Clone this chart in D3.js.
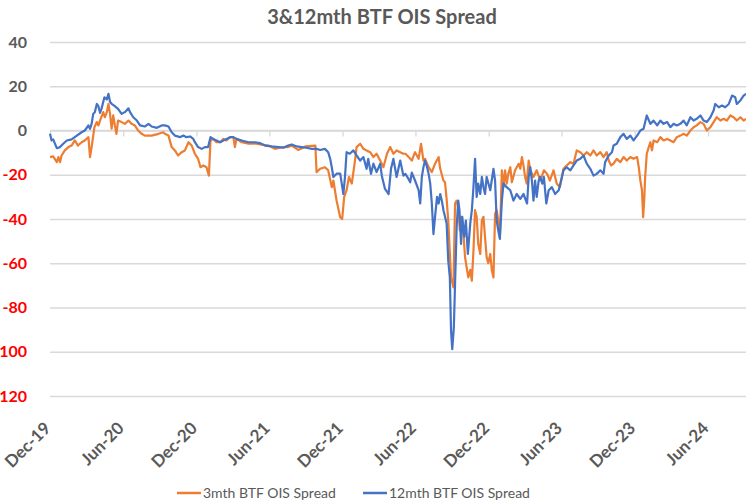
<!DOCTYPE html>
<html>
<head>
<meta charset="utf-8">
<script src="https://cdn.jsdelivr.net/npm/d3@7"></script>
<style>
  html, body { margin: 0; padding: 0; background: #ffffff; }
  svg { display: block; }
</style>
</head>
<body>
<script>
const chartTitle = "3&12mth BTF OIS Spread";
const seriesNames = ["3mth BTF OIS Spread", "12mth BTF OIS Spread"];
const seriesColors = ["#ED7D31", "#4472C4"];
const yTicks = [-120, -100, -80, -60, -40, -20, 0, 20, 40];
const xTickDates = ["2019-12-01","2020-06-01","2020-12-01","2021-06-01","2021-12-01","2022-06-01","2022-12-01","2023-06-01","2023-12-01","2024-06-01"];
const xTickLabels = ["Dec-19","Jun-20","Dec-20","Jun-21","Dec-21","Jun-22","Dec-22","Jun-23","Dec-23","Jun-24"];

const spread3m = [
["2019-12-01",-12],["2019-12-09",-11.7],["2019-12-18",-14.3],["2019-12-22",-12],["2019-12-26",-14.3],["2019-12-30",-11.3],
["2020-01-07",-9],["2020-01-16",-7.5],["2020-01-24",-6.8],["2020-02-01",-4.5],["2020-02-09",-6.8],["2020-02-18",-5.3],["2020-02-26",-4.5],
["2020-03-06",-3],["2020-03-10",-12],["2020-03-14",-7.5],["2020-03-21",1.5],["2020-03-27",3.8],["2020-03-31",2.3],
["2020-04-04",4.5],["2020-04-12",8.3],["2020-04-16",6],["2020-04-21",8.3],["2020-04-25",12],["2020-04-29",7.5],
["2020-05-03",0.8],["2020-05-07",6.8],["2020-05-11",2.3],["2020-05-15",-1.5],["2020-05-19",4.5],["2020-05-28",3.8],
["2020-06-05",3],["2020-06-14",4.5],["2020-06-22",3],["2020-06-30",2.3],["2020-07-08",0],["2020-07-17",-1.5],["2020-07-25",-2.3],
["2020-08-11",-2.3],["2020-08-28",-1.5],["2020-09-09",-0.8],["2020-09-13",-1.5],["2020-09-22",-2.3],["2020-09-30",-7.5],
["2020-10-08",-9],["2020-10-16",-11.3],["2020-10-25",-9.8],["2020-11-02",-9],["2020-11-11",-5.3],["2020-11-19",-6.8],["2020-11-27",-10.5],
["2020-12-05",-12.8],["2020-12-11",-16.6],["2020-12-18",-15.8],["2020-12-26",-16.6],["2021-01-01",-20.4],
["2021-01-05",-4.5],["2021-01-12",-3.8],["2021-01-20",-5.3],["2021-01-29",-5.3],["2021-02-06",-3.8],["2021-02-14",-4.5],["2021-02-23",-3],
["2021-03-03",-3],["2021-03-07",-7.5],["2021-03-11",-3.8],["2021-03-24",-5.3],["2021-04-10",-6],["2021-04-26",-5.8],["2021-05-13",-6.4],["2021-05-30",-6.8],
["2021-06-15",-8.3],["2021-07-02",-7.5],["2021-07-18",-7.5],["2021-07-27",-6.8],["2021-08-12",-8.8],["2021-08-30",-7.2],["2021-09-24",-6.8],
["2021-09-27",-18.8],["2021-10-06",-17.3],["2021-10-18",-16.6],["2021-10-26",-18],["2021-11-04",-25.6],["2021-11-08",-22.6],["2021-11-16",-31.7],["2021-11-25",-39.2],["2021-11-30",-40],
["2021-12-05",-30],["2021-12-11",-27],["2021-12-17",-21],["2021-12-24",-24],["2022-01-01",-13.6],["2022-01-05",-7.5],["2022-01-14",-6],["2022-01-22",-8.3],["2022-01-30",-9],
["2022-02-08",-9.8],["2022-02-16",-12],["2022-02-24",-10.5],["2022-03-05",-13.6],["2022-03-13",-16.6],["2022-03-22",-10.5],["2022-03-30",-7.5],
["2022-04-07",-10.5],["2022-04-15",-9],["2022-04-24",-9.8],["2022-05-02",-10.5],["2022-05-07",-10.5],["2022-05-15",-12],["2022-05-23",-13.6],["2022-05-31",-9.8],
["2022-06-09",-12.8],["2022-06-15",-6],["2022-06-21",-13.6],["2022-06-25",-12.8],["2022-07-04",-16.6],["2022-07-12",-18.8],["2022-07-20",-15],["2022-07-29",-12],
["2022-08-02",-17.3],["2022-08-10",-22.6],["2022-08-14",-23.4],["2022-08-18",-31],["2022-08-22",-40.7],["2022-08-29",-66.4],["2022-09-04",-70.9],
["2022-09-08",-33],["2022-09-12",-31.7],["2022-09-16",-34.7],["2022-09-20",-45.2],["2022-09-24",-39],["2022-09-28",-43.7],
["2022-10-03",-57.3],["2022-10-07",-61.8],["2022-10-11",-66.4],["2022-10-16",-63],["2022-10-20",-67.9],["2022-10-24",-54.3],["2022-10-28",-36],
["2022-11-01",-39],["2022-11-05",-51.3],["2022-11-10",-55.8],["2022-11-14",-40.7],["2022-11-18",-39],["2022-11-22",-48.3],["2022-11-26",-57.3],["2022-11-30",-60],
["2022-12-05",-55.8],["2022-12-09",-63.3],["2022-12-13",-66.4],["2022-12-17",-37.7],["2022-12-21",-36],["2022-12-25",-40.7],["2022-12-29",-48.3],
["2023-01-03",-18],["2023-01-07",-25.6],["2023-01-11",-18],["2023-01-15",-24],["2023-01-19",-19.6],["2023-01-24",-16.6],["2023-01-28",-23.4],
["2023-02-05",-18],["2023-02-14",-15],["2023-02-18",-17.3],["2023-02-22",-12],["2023-02-26",-15.8],
["2023-03-02",-21],["2023-03-06",-24],["2023-03-11",-13.6],["2023-03-15",-18],["2023-03-23",-21],["2023-03-31",-18],
["2023-04-09",-22.6],["2023-04-18",-18],["2023-04-26",-19.6],["2023-05-03",-22.6],["2023-05-12",-18],["2023-05-20",-24],["2023-05-28",-25.6],
["2023-06-06",-17.3],["2023-06-14",-15.8],["2023-06-23",-14.3],["2023-07-01",-15],["2023-07-09",-9],["2023-07-18",-9.8],["2023-07-26",-11.3],
["2023-08-03",-9.8],["2023-08-12",-11.3],["2023-08-20",-9],["2023-08-28",-11.3],["2023-09-06",-9.8],["2023-09-14",-12],["2023-09-22",-9.8],["2023-09-27",-13.6],
["2023-10-03",-15.8],["2023-10-09",-15],["2023-10-17",-12.8],["2023-10-26",-14.3],["2023-11-03",-12],["2023-11-11",-13.6],["2023-11-20",-12],["2023-11-28",-12.8],
["2023-12-07",-12],["2023-12-11",-16.6],["2023-12-15",-22.6],["2023-12-19",-27],["2023-12-22",-39.2],["2023-12-25",-30],["2023-12-27",-21],["2023-12-31",-10.5],
["2024-01-05",-7.5],["2024-01-09",-5.3],["2024-01-13",-9],["2024-01-17",-4.5],["2024-01-26",-5.3],["2024-02-03",-3],["2024-02-11",-4.5],["2024-02-20",-3.8],["2024-02-28",-4.5],
["2024-03-07",-5.3],["2024-03-15",-3],["2024-03-24",-2.3],["2024-04-01",-1.5],["2024-04-09",-2.3],["2024-04-18",0],["2024-04-26",1.5],
["2024-05-04",2.3],["2024-05-13",3.8],["2024-05-21",3],["2024-05-29",0],["2024-06-07",1.5],["2024-06-15",3.8],["2024-06-23",6],
["2024-07-02",4.5],["2024-07-10",5.3],["2024-07-18",4.5],["2024-07-27",6.8],["2024-08-04",6],["2024-08-12",4.5],["2024-08-21",6],["2024-08-29",4.5],["2024-09-04",5.3]
];

const spread12m = [
["2019-12-01",-1.5],["2019-12-05",-4.5],["2019-12-09",-4],["2019-12-18",-8],["2019-12-26",-7.5],
["2020-01-03",-6],["2020-01-12",-4.5],["2020-01-24",-4],["2020-02-06",-2.3],["2020-02-18",-0.8],["2020-02-26",0],
["2020-03-06",2.3],["2020-03-10",0.8],["2020-03-14",3],["2020-03-18",7.5],["2020-03-22",8.3],["2020-03-27",12],["2020-03-31",11],
["2020-04-04",8],["2020-04-08",10],["2020-04-15",15],["2020-04-21",14],["2020-04-25",16.6],["2020-04-29",13],
["2020-05-03",12],["2020-05-11",11],["2020-05-19",9.8],["2020-05-28",7.5],["2020-06-05",8.3],["2020-06-14",10],["2020-06-18",8.3],["2020-06-26",6],
["2020-07-05",4.5],["2020-07-13",2.3],["2020-07-25",1.8],["2020-08-03",3],["2020-08-11",1.8],["2020-08-24",1.2],["2020-09-05",2.3],
["2020-09-13",2.3],["2020-09-22",1.8],["2020-09-30",-0.8],["2020-10-08",-2.3],["2020-10-21",-3],["2020-10-29",-2.3],
["2020-11-06",-3],["2020-11-15",-2.7],["2020-11-23",-3.8],["2020-11-27",-5.3],["2020-12-05",-7.5],["2020-12-14",-8.3],["2020-12-22",-7.5],["2020-12-30",-7.5],
["2021-01-05",-3],["2021-01-12",-3.8],["2021-01-20",-4.5],["2021-01-29",-5.3],["2021-02-06",-4.5],["2021-02-14",-3.8],["2021-02-23",-3],
["2021-03-03",-3],["2021-03-11",-3.8],["2021-03-24",-4.5],["2021-04-10",-5.3],["2021-04-26",-5.3],["2021-05-09",-5.7],["2021-05-21",-6.8],
["2021-06-07",-7.2],["2021-06-24",-7.5],["2021-07-06",-7.8],["2021-07-18",-6.8],["2021-07-27",-6.3],["2021-08-08",-7.2],["2021-08-21",-7.5],
["2021-09-02",-7.8],["2021-09-15",-8.3],["2021-09-27",-8.3],["2021-10-06",-8.8],["2021-10-18",-8.3],["2021-10-26",-9.8],["2021-10-31",-12.8],
["2021-11-04",-16.6],["2021-11-08",-21],["2021-11-16",-19.5],["2021-11-25",-19.5],["2021-12-03",-28.7],["2021-12-07",-21],["2021-12-11",-9.8],["2021-12-19",-10.5],["2021-12-28",-9],
["2022-01-05",-11.3],["2022-01-14",-13.6],["2022-01-22",-12],["2022-01-30",-17.3],["2022-02-03",-12.8],["2022-02-10",-19.6],["2022-02-16",-15],["2022-02-24",-18.8],
["2022-03-05",-15],["2022-03-09",-20.4],["2022-03-17",-26.4],["2022-03-26",-28.7],["2022-04-01",-17.3],["2022-04-07",-12.8],["2022-04-15",-21],["2022-04-24",-13.6],
["2022-05-02",-20.4],["2022-05-07",-19.6],["2022-05-15",-22],["2022-05-19",-23.4],["2022-05-23",-19],["2022-05-31",-22.6],
["2022-06-09",-27],["2022-06-13",-33],["2022-06-17",-21],["2022-06-21",-16.6],["2022-06-25",-13.6],["2022-06-29",-15.8],
["2022-07-04",-19.6],["2022-07-08",-24],["2022-07-12",-33],["2022-07-16",-46.8],["2022-07-20",-39],["2022-07-25",-30],["2022-07-29",-33],
["2022-08-02",-28.7],["2022-08-06",-31.7],["2022-08-10",-36],["2022-08-14",-39],["2022-08-18",-42],["2022-08-22",-58.8],["2022-08-26",-66.4],["2022-08-29",-90.5],
["2022-09-01",-98.8],["2022-09-05",-89],["2022-09-08",-69.4],["2022-09-12",-43.7],["2022-09-16",-31.7],["2022-09-19",-36],["2022-09-23",-51.3],["2022-09-26",-39],
["2022-10-01",-48],["2022-10-05",-40.7],["2022-10-10",-55.8],["2022-10-16",-42],["2022-10-20",-36],["2022-10-24",-25.6],["2022-10-28",-12.8],
["2022-11-01",-30],["2022-11-05",-24],["2022-11-10",-28.7],["2022-11-14",-21],["2022-11-18",-25.6],["2022-11-22",-28.7],["2022-11-26",-21],
["2022-12-05",-27],["2022-12-13",-17.3],["2022-12-17",-22.6],["2022-12-21",-40.7],["2022-12-25",-45.2],["2022-12-29",-49],
["2023-01-03",-31.7],["2023-01-07",-24],["2023-01-15",-25.6],["2023-01-24",-27],["2023-02-01",-31.7],["2023-02-09",-28.7],["2023-02-18",-30.9],["2023-02-26",-28.7],
["2023-03-07",-33],["2023-03-11",-21],["2023-03-15",-16.6],["2023-03-19",-22.6],["2023-03-23",-31.7],["2023-03-27",-22.6],["2023-03-31",-30],
["2023-04-05",-22.6],["2023-04-09",-21],["2023-04-14",-24],["2023-04-18",-21],["2023-04-24",-33],["2023-04-30",-27],
["2023-05-08",-25.6],["2023-05-16",-28.7],["2023-05-25",-27],["2023-05-31",-22.6],["2023-06-06",-18],["2023-06-14",-16.6],["2023-06-23",-18],
["2023-07-01",-15.8],["2023-07-09",-13.6],["2023-07-18",-12.8],["2023-07-26",-11.3],["2023-08-03",-15],["2023-08-12",-17.3],["2023-08-20",-20.4],["2023-08-28",-19.6],
["2023-09-06",-18],["2023-09-14",-19.6],["2023-09-18",-14.3],["2023-09-27",-11.3],["2023-10-05",-9.8],["2023-10-09",-6.8],["2023-10-17",-6],["2023-10-26",-3],
["2023-11-03",-1.5],["2023-11-11",-3.8],["2023-11-20",-2.3],["2023-11-28",-4.5],["2023-12-07",-2.3],["2023-12-15",0],["2023-12-23",0.8],["2023-12-31",6.8],
["2024-01-09",3],["2024-01-17",4.5],["2024-01-26",2.3],["2024-02-03",4.5],["2024-02-11",3],["2024-02-20",3.8],["2024-02-28",1.5],
["2024-03-07",3],["2024-03-15",2.3],["2024-03-24",3],["2024-04-01",4.5],["2024-04-09",2.3],["2024-04-18",6],["2024-04-26",4.5],
["2024-05-04",5.3],["2024-05-13",6.8],["2024-05-21",4.5],["2024-05-29",3.8],["2024-06-07",6],["2024-06-15",9],["2024-06-19",12],["2024-06-28",10.5],
["2024-07-06",11.3],["2024-07-14",10.5],["2024-07-23",12],["2024-07-31",15.8],["2024-08-08",15],["2024-08-12",12],["2024-08-21",13.6],["2024-08-29",15.8],["2024-09-04",16.6]
];

const W = 746, H = 500;
const parse = d3.timeParse("%Y-%m-%d");
const FONT = "Lato, 'Liberation Sans', Arial, sans-serif";
const GREY = "#595959";

const svg = d3.select("body").append("svg").attr("width", W).attr("height", H);

const x = d3.scaleTime()
  .domain([parse(xTickDates[0]), parse(xTickDates[xTickDates.length - 1])])
  .range([50, 708]);
const y = d3.scaleLinear().domain([-120, 40]).range([396, 42]);

// Title
svg.append("text")
  .attr("x", 382).attr("y", 24)
  .attr("text-anchor", "middle")
  .style("font-family", FONT).style("font-weight", "bold").style("font-size", "20px")
  .attr("fill", GREY)
  .text(chartTitle);

// Y gridlines + labels
svg.append("g")
  .attr("transform", "translate(50,0)")
  .call(d3.axisLeft(y).tickValues(yTicks).tickSize(-(W - 50)).tickPadding(23).tickFormat(d => d))
  .call(g => g.select(".domain").remove())
  .call(g => g.selectAll(".tick line").attr("stroke", "#D9D9D9").attr("stroke-width", 1.3))
  .call(g => g.selectAll(".tick text")
    .attr("fill", d => d < 0 ? "#FF0000" : GREY)
    .style("font-family", FONT).style("font-weight", "bold").style("font-size", "16px"));

// X axis line at zero with tick marks
const xTicks = xTickDates.map(parse);
svg.append("line")
  .attr("x1", 50).attr("x2", W).attr("y1", y(0)).attr("y2", y(0))
  .attr("stroke", "#D9D9D9").attr("stroke-width", 1.3);
svg.append("g")
  .attr("transform", `translate(0,${y(0)})`)
  .call(d3.axisBottom(x).tickValues(xTicks).tickSize(6).tickSizeOuter(0).tickFormat(""))
  .call(g => g.select(".domain").remove())
  .call(g => g.selectAll(".tick line").attr("stroke", "#D9D9D9").attr("stroke-width", 1.3));

// X labels at bottom, rotated
svg.append("g")
  .attr("transform", "translate(0,425)")
  .call(d3.axisBottom(x).tickValues(xTicks).tickSize(0).tickFormat((d, i) => xTickLabels[i]))
  .call(g => g.select(".domain").remove())
  .call(g => g.selectAll(".tick text")
    .attr("x", 0).attr("y", 0).attr("dy", "0.35em")
    .attr("text-anchor", "end")
    .attr("transform", "translate(-3,0) rotate(-45)")
    .attr("fill", GREY)
    .style("font-family", FONT).style("font-weight", "bold").style("font-size", "17px"));

// Lines
const line = d3.line().x(d => x(parse(d[0]))).y(d => y(d[1]));
[spread3m, spread12m].forEach((s, i) => {
  svg.append("path")
    .datum(s)
    .attr("fill", "none")
    .attr("stroke", seriesColors[i])
    .attr("stroke-width", 2.2)
    .attr("stroke-linejoin", "round")
    .attr("d", line);
});

// Legend
const legendX = [177, 363];
seriesNames.forEach((name, i) => {
  const g = svg.append("g").attr("transform", `translate(${legendX[i]},493)`);
  g.append("line").attr("x1", 0).attr("x2", 24).attr("y1", 0).attr("y2", 0)
    .attr("stroke", seriesColors[i]).attr("stroke-width", 2.5);
  g.append("text").attr("x", 26).attr("y", 0).attr("dy", "0.38em")
    .attr("fill", GREY)
    .style("font-family", FONT).style("font-size", "14px")
    .text(name);
});
</script>
</body>
</html>
